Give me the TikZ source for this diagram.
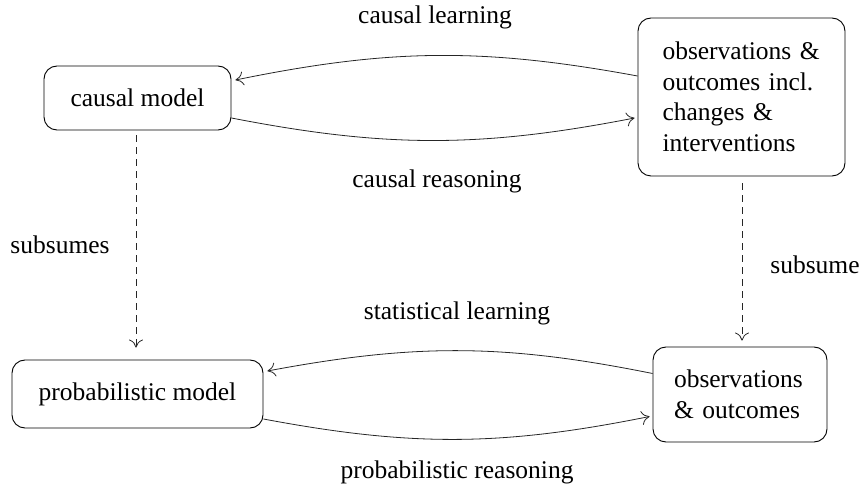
\documentclass[tikz,border=0pt]{standalone}
\usepackage{fontspec}
\setmainfont{Liberation Serif}
\usetikzlibrary{calc,arrows.meta}
\begin{document}
\begin{tikzpicture}[x=1pt,y=-1pt,
  font=\fontsize{25.5}{30.5}\selectfont,
  box/.style={draw,rounded corners=13pt,line width=0.9pt,inner sep=0pt,align=center},
  tip/.style={-{Computer Modern Rightarrow[length=8pt,width=14pt,line width=0.8pt]}},
  flow/.style={tip,line width=0.8pt,draw=black!85},
  sub/.style={tip,dash pattern=on 7pt off 5pt,line width=0.8pt,draw=black!85},
  lbl/.style={inner sep=0pt}]
\useasboundingbox (0,0) rectangle (863,489);
\node[box,minimum width=187pt,minimum height=64pt] (cm) at (137.5,98) {causal model};
\node[box,minimum width=207pt,minimum height=158pt,text width=158pt,align=left] (o1) at (741.5,97) {observations \&\\outcomes incl.\\changes \&\\interventions};
\node[box,minimum width=251pt,minimum height=68pt] (pm) at (137.5,394) {probabilistic model};
\node[box,minimum width=174pt,minimum height=95pt,text width=132pt,align=left] (o2) at (740,394.5) {observations\\\& outcomes};
\draw[flow] ($(o1.west)+(0,-21)$) to[bend right=11] ($(cm.east)+(4,-18)$);
\draw[flow] ($(cm.east)+(0,20)$) to[bend right=11] ($(o1.west)+(-3,21)$);
\draw[flow] ($(o2.west)+(0,-21)$) to[bend right=11] ($(pm.east)+(4,-23)$);
\draw[flow] ($(pm.east)+(0,25)$) to[bend right=11] ($(o2.west)+(-3,22)$);
\draw[sub] ($(cm.south)+(-1.5,5)$) -- ($(pm.north)+(-1.5,-12)$);
\draw[sub] ($(o1.south)+(0.5,7)$) -- ($(o2.north)+(2,-6)$);
\node[lbl] (l1) at (435,17) {causal learning};
\node[lbl] (l2) at (437,181) {causal reasoning};
\node[lbl] (l3) at (60,245) {subsumes};
\node[lbl] (l4) at (815,265) {subsume};
\node[lbl] (l5) at (457,313) {statistical learning};
\node[lbl] (l6) at (457,472) {probabilistic reasoning};
\end{tikzpicture}
\end{document}
